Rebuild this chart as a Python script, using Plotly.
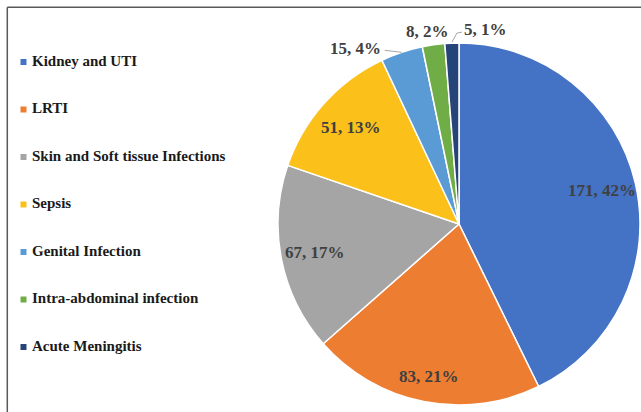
import numpy as np
import plotly.graph_objects as go

categories = ["Kidney and UTI", "LRTI", "Skin and Soft tissue Infections", "Sepsis",
              "Genital Infection", "Intra-abdominal infection", "Acute Meningitis"]
counts = [171, 83, 67, 51, 15, 8, 5]
pct_labels = ["42%", "21%", "17%", "13%", "4%", "2%", "1%"]
colors = ["#4472C4", "#ED7D31", "#A5A5A5", "#FBC01A", "#5B9BD5", "#70AD47", "#264478"]

W, H = 641, 412
CX, CY, R = 459, 224, 181          # pie geometry in pixels (layout)
LABEL_FONT = dict(family="Liberation Serif", size=17, color="#404040")
LEADER = "#A6A6A6"

fig = go.Figure()

fig.add_trace(go.Pie(
    labels=categories, values=counts, customdata=pct_labels,
    sort=False, direction="clockwise", rotation=0,
    marker=dict(colors=colors, line=dict(color="white", width=1.5)),
    textinfo="none",
    domain=dict(x=[(CX - R) / W, (CX + R) / W], y=[(H - CY - R) / H, (H - CY + R) / H]),
    showlegend=False, hovertemplate="%{label}: %{value}, %{customdata}<extra></extra>",
))

# legend built as a marker+text series on a hidden axis
fig.add_trace(go.Scatter(
    x=[0] * len(categories), y=list(range(len(categories))),
    mode="markers+text", text=["\u00a0<b>%s</b>" % c for c in categories],
    textposition="middle right",
    textfont=dict(family="Liberation Serif", size=15, color="#1a1a1a"),
    marker=dict(symbol="square", size=6, color=colors),
    showlegend=False, hoverinfo="skip", cliponaxis=False,
))

# data labels, positioned from the slice mid-angles
vals = np.array(counts, dtype=float)
mid = (np.cumsum(vals) - vals / 2) / vals.sum() * 2 * np.pi
annotations, shapes = [], []
inside_k = {0: 0.81, 1: 0.86, 2: 0.81, 3: 0.80}
# (xanchor, dx, dy, leader) for slices labelled outside, offsets from slice edge point
outside_style = {
    4: ("right", -19, -4, [(0, 0), (-17, -2)]),
    5: ("center", -6, -13, None),
    6: ("left", 10, -14, [(0, -1), (5, -10), (10, -11)]),
}


def px2paper(x, y):
    return x / W, 1 - y / H


for i, (c, p) in enumerate(zip(counts, pct_labels)):
    text = "<b>%d, %s</b>" % (c, p)
    if i not in outside_style:
        k = inside_k[i]
        x = CX + k * R * np.sin(mid[i])
        y = CY - k * R * np.cos(mid[i])
        xp, yp = px2paper(x, y)
        annotations.append(dict(x=xp, y=yp, xref="paper", yref="paper", text=text,
                                showarrow=False, font=LABEL_FONT, xanchor="center", yanchor="middle"))
    else:
        xa, dx, dy, leader = outside_style[i]
        ex = CX + R * np.sin(mid[i])
        ey = CY - R * np.cos(mid[i])
        xp, yp = px2paper(ex + dx, ey + dy)
        annotations.append(dict(x=xp, y=yp, xref="paper", yref="paper", text=text,
                                showarrow=False, font=LABEL_FONT, xanchor=xa, yanchor="middle"))
        if leader:
            pts = [px2paper(ex + a, ey + b) for a, b in leader]
            path = "M " + " L ".join("%f,%f" % pt for pt in pts)
            shapes.append(dict(type="path", xref="paper", yref="paper", path=path,
                               line=dict(color=LEADER, width=1)))

# frame lines (top and left edges of the cropped chart area)
shapes += [
    dict(type="line", xref="paper", yref="paper", x0=7.3 / W, x1=1, y0=1 - 7.3 / H, y1=1 - 7.3 / H,
         line=dict(color="#595959", width=1.5)),
    dict(type="line", xref="paper", yref="paper", x0=7.3 / W, x1=7.3 / W, y0=0, y1=1 - 7.3 / H,
         line=dict(color="#595959", width=1.5)),
]

fig.update_layout(
    width=W, height=H, margin=dict(l=0, r=0, t=0, b=0),
    paper_bgcolor="white", plot_bgcolor="rgba(0,0,0,0)",
    xaxis=dict(domain=[0, 0.42], range=[-23.5, 245.7], visible=False, fixedrange=True),
    yaxis=dict(domain=[0, 1], range=[7.368, -1.305], visible=False, fixedrange=True),
    annotations=annotations, shapes=shapes,
)

fig.write_html("out.html", config={"displayModeBar": False},
               post_script="document.body.style.margin='0';document.body.style.overflow='hidden';")
